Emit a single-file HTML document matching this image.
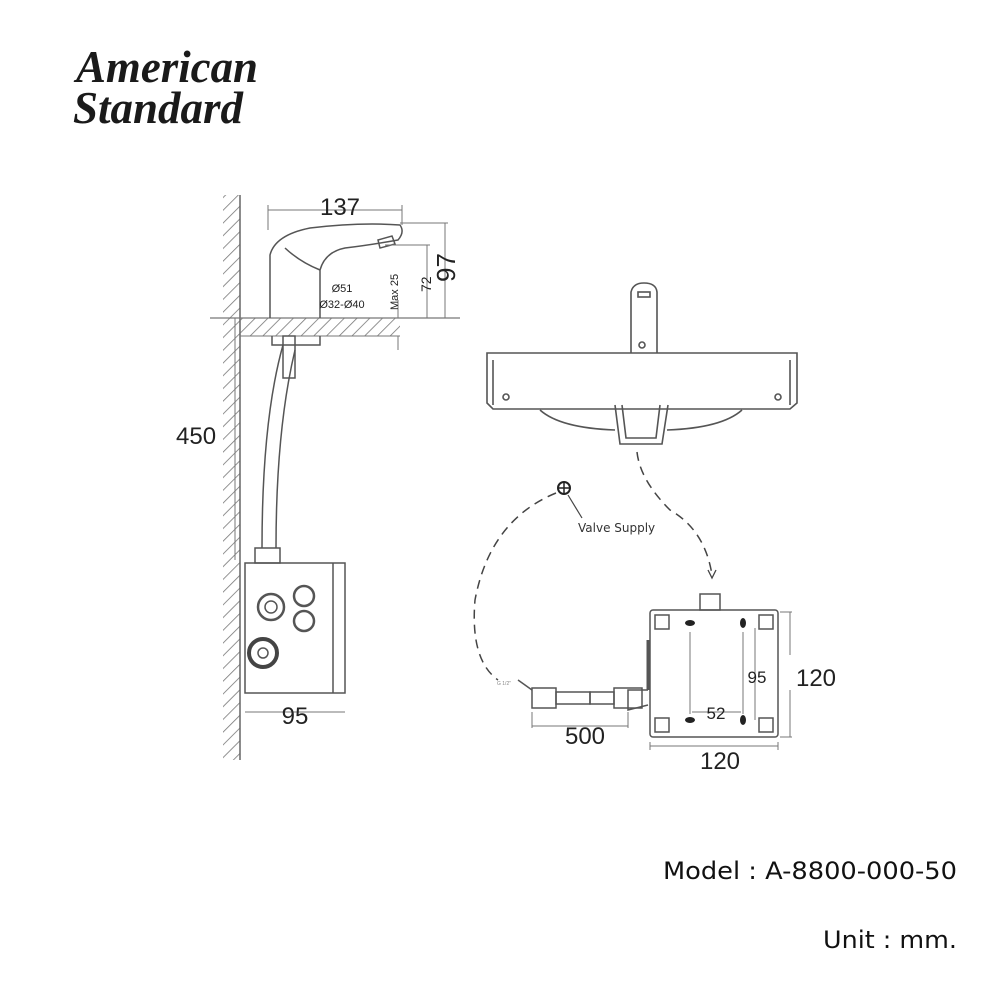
<!DOCTYPE html>
<html><head><meta charset="utf-8"><style>
html,body{margin:0;padding:0;background:#fff;width:1000px;height:1000px;overflow:hidden}
svg{display:block}
</style></head><body>
<svg width="1000" height="1000" viewBox="0 0 1000 1000" xmlns="http://www.w3.org/2000/svg">
<defs>
<pattern id="h" width="9" height="9" patternUnits="userSpaceOnUse" patternTransform="rotate(45)">
<line x1="0" y1="0" x2="0" y2="9" stroke="#777" stroke-width="1.6"/>
</pattern>
</defs>
<g font-family="Liberation Serif, serif" font-style="italic" font-weight="bold" fill="#1a1a1a">
<text x="76" y="82" font-size="46" textLength="182" lengthAdjust="spacingAndGlyphs">American</text>
<text x="73" y="123" font-size="46" textLength="170" lengthAdjust="spacingAndGlyphs">Standard</text>
</g>

<rect x="223" y="195" width="17" height="565" fill="url(#h)"/>
<line x1="240" y1="195" x2="240" y2="760" stroke="#666" stroke-width="1.5"/>
<rect x="240" y="318" width="160" height="18" fill="url(#h)"/>
<line x1="210" y1="318" x2="460" y2="318" stroke="#777" stroke-width="1.2"/>
<line x1="240" y1="336" x2="400" y2="336" stroke="#777" stroke-width="1"/>
<g fill="none" stroke="#555" stroke-width="1.5">
<path d="M270 318 L270 255 Q275 235 310 228 Q360 222 400 225 Q405 232 398 240 Q370 245 345 248 Q325 252 320 270 L320 318"/>
<path d="M285 248 Q300 262 320 270"/>
<path d="M378 240 L392 236 L395 244 L380 248 Z"/>
<path d="M272 336 L272 345 L320 345 L320 336"/>
<rect x="283" y="336" width="12" height="42"/>
<path d="M283 345 Q262 420 262 548"/>
<path d="M295 350 Q276 430 276 548"/>
<rect x="255" y="548" width="25" height="15"/>
<rect x="245" y="563" width="100" height="130"/>
<line x1="333" y1="563" x2="333" y2="693"/>
<circle cx="271" cy="607" r="13" stroke-width="2.5"/>
<circle cx="271" cy="607" r="6"/>
<circle cx="304" cy="596" r="10" stroke-width="2.5"/>
<circle cx="304" cy="621" r="10" stroke-width="2.5"/>
<circle cx="263" cy="653" r="14" stroke-width="4" stroke="#444"/>
<circle cx="263" cy="653" r="5"/>
</g>
<g stroke="#777" stroke-width="1" fill="none">
<line x1="268" y1="210" x2="402" y2="210"/>
<line x1="268" y1="205" x2="268" y2="230"/>
<line x1="402" y1="205" x2="402" y2="225"/>
<line x1="400" y1="223" x2="448" y2="223"/>
<line x1="385" y1="245" x2="430" y2="245"/>
<line x1="445" y1="223" x2="445" y2="318"/>
<line x1="427" y1="245" x2="427" y2="318"/>
<line x1="398" y1="300" x2="398" y2="318"/>
<line x1="398" y1="336" x2="398" y2="350"/>
<line x1="245" y1="712" x2="345" y2="712"/>
<line x1="235" y1="318" x2="235" y2="560"/>
</g>
<g font-family="Liberation Sans, sans-serif" fill="#222">
<text x="340" y="215" font-size="24" text-anchor="middle">137</text>
<text x="176" y="444" font-size="24">450</text>
<text x="295" y="724" font-size="24" text-anchor="middle">95</text>
<text x="342" y="292" font-size="11" text-anchor="middle">Ø51</text>
<text x="342" y="308" font-size="11" text-anchor="middle">Ø32-Ø40</text>
<text transform="translate(398,310) rotate(-90)" font-size="11">Max 25</text>
<text transform="translate(431,292) rotate(-90)" font-size="14">72</text>
<text transform="translate(455,282) rotate(-90)" font-size="26">97</text>
</g>

<g fill="none" stroke="#555" stroke-width="1.6">
<path d="M631 353 L631 292 Q633 283 644 283 Q656 283 657 292 L657 353"/>
<rect x="638" y="292" width="12" height="5"/>
<circle cx="642" cy="345" r="3"/>
<path d="M487 353 L797 353 L797 403 L790 409 L493 409 L487 403 Z"/>
<line x1="493" y1="360" x2="493" y2="405"/>
<line x1="790" y1="360" x2="790" y2="405"/>
<circle cx="506" cy="397" r="3"/>
<circle cx="778" cy="397" r="3"/>
<path d="M540 410 Q560 428 615 430"/>
<path d="M742 410 Q722 428 667 430"/>
<path d="M615 405 L620 444 L662 444 L668 405"/>
<path d="M622 405 L626 438 L656 438 L660 405"/>
</g>
<g fill="none" stroke="#444" stroke-width="1.5" stroke-dasharray="9,6">
<path d="M637 452 Q640 480 670 510 Q705 530 712 575"/>
<path d="M556 493 Q490 520 475 600 Q470 660 498 680"/>
</g>
<path d="M708 570 L712 578 L716 570" fill="none" stroke="#444" stroke-width="1.3"/>
<circle cx="564" cy="488" r="6" fill="none" stroke="#222" stroke-width="2"/>
<path d="M558 488 H570 M564 482 V494" stroke="#222" stroke-width="1.5"/>
<line x1="568" y1="495" x2="582" y2="518" stroke="#444" stroke-width="1.2"/>
<text x="578" y="532" font-family="DejaVu Sans, sans-serif" font-size="12" fill="#333">Valve Supply</text>
<text x="497" y="685" font-family="Liberation Sans, sans-serif" font-size="5" fill="#888">G 1/2"</text>

<g fill="none" stroke="#555" stroke-width="1.5">
<rect x="700" y="594" width="20" height="16"/>
<rect x="650" y="610" width="128" height="127" rx="3"/>
<path d="M655 615 h14 v14 h-14z M759 615 h14 v14 h-14z M655 718 h14 v14 h-14z M759 718 h14 v14 h-14z"/>
<line x1="648" y1="640" x2="648" y2="690" stroke-width="3"/>
<path d="M648 690 L628 690 L628 710 L648 705"/>
<rect x="614" y="688" width="28" height="20"/>
<rect x="590" y="692" width="24" height="12"/>
<rect x="556" y="692" width="34" height="12"/>
<rect x="532" y="688" width="24" height="20"/>
<path d="M532 690 L518 680"/>
</g>
<g fill="#222">
<ellipse cx="690" cy="623" rx="5" ry="3"/><ellipse cx="743" cy="623" rx="3" ry="5"/>
<ellipse cx="690" cy="720" rx="5" ry="3"/><ellipse cx="743" cy="720" rx="3" ry="5"/>
</g>
<g stroke="#777" stroke-width="1" fill="none">
<line x1="690" y1="632" x2="690" y2="714"/>
<line x1="743" y1="632" x2="743" y2="714"/>
<line x1="755" y1="628" x2="755" y2="720"/>
<line x1="780" y1="612" x2="792" y2="612"/>
<line x1="780" y1="737" x2="792" y2="737"/>
<line x1="790" y1="612" x2="790" y2="655"/>
<line x1="790" y1="690" x2="790" y2="737"/>
<line x1="650" y1="742" x2="650" y2="750"/>
<line x1="778" y1="742" x2="778" y2="750"/>
<line x1="650" y1="746" x2="778" y2="746"/>
<line x1="532" y1="712" x2="532" y2="728"/>
<line x1="628" y1="712" x2="628" y2="728"/>
<line x1="532" y1="726" x2="628" y2="726"/>
<line x1="692" y1="712" x2="741" y2="712"/>
</g>
<g font-family="Liberation Sans, sans-serif" fill="#222">
<text x="757" y="683" font-size="17" text-anchor="middle">95</text>
<text x="716" y="719" font-size="17" text-anchor="middle">52</text>
<text x="816" y="686" font-size="24" text-anchor="middle">120</text>
<text x="720" y="769" font-size="24" text-anchor="middle">120</text>
<text x="585" y="744" font-size="24" text-anchor="middle">500</text>
</g>

<g font-family="DejaVu Sans, sans-serif" font-size="24" fill="#111">
<text x="663" y="879" textLength="294" lengthAdjust="spacingAndGlyphs">Model : A-8800-000-50</text>
<text x="823" y="948" textLength="134" lengthAdjust="spacingAndGlyphs">Unit : mm.</text>
</g>
</svg>
</body></html>
